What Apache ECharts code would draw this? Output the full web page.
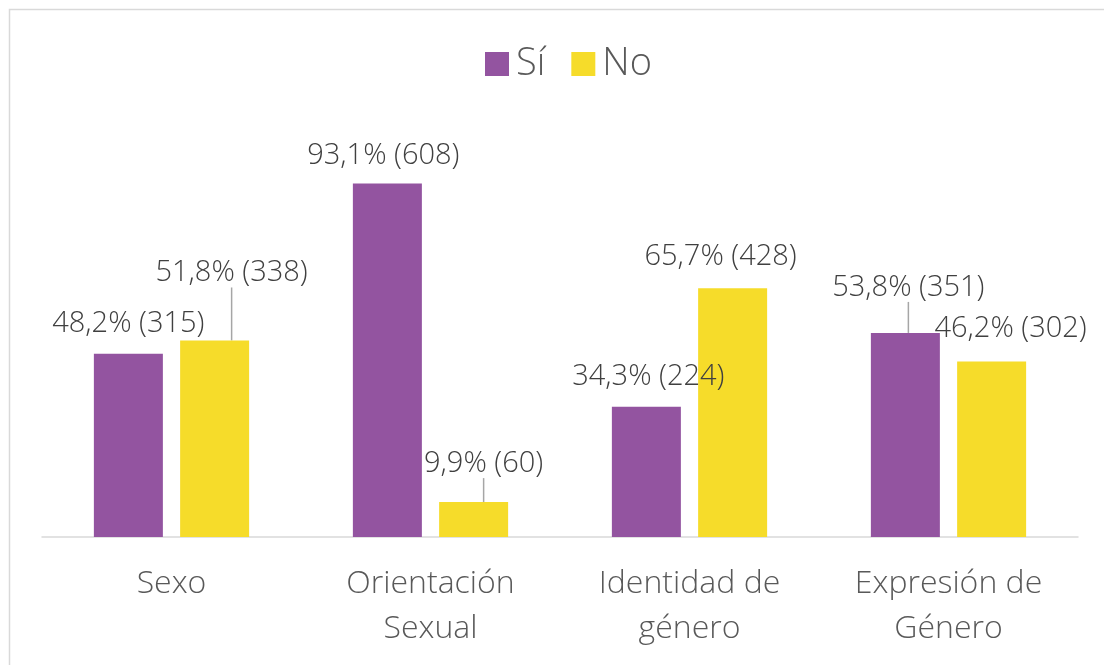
<!DOCTYPE html>
<html>
<head>
<meta charset="utf-8">
<script src="https://cdn.jsdelivr.net/npm/echarts@6/dist/echarts.min.js"></script>
<style>
  html, body { margin: 0; padding: 0; background: #fff; }
  #chart { width: 1104px; height: 665px; }
</style>
</head>
<body>
<div id="chart"></div>
<script>
// categorías y valores
const categories = ['Sexo', 'Orientación\nSexual', 'Identidad de\ngénero', 'Expresión de\nGénero']
const siValues = [315, 608, 224, 351]
const noValues = [338, 60, 428, 302]
const siPct = ['48,2%', '93,1%', '34,3%', '53,8%']
const noPct = ['51,8%', '9,9%', '65,7%', '46,2%']

// desplazamiento de cada etiqueta respecto a su posición por defecto
const siShift = [[0, -11], [-4, -8], [2, -11], [3, -26]]
const noShift = [[17, -48], [10, -19], [-12, -12], [19, -13]]
// qué etiquetas llevan línea guía
const siGuide = [false, false, false, true]
const noGuide = [true, true, false, false]

const chart = echarts.init(document.getElementById('chart'))

function buildData (values, pct, guide) {
  return values.map((v, i) => ({
    value: v,
    label: { formatter: pct[i] + ' (' + v + ')' },
    labelLine: { show: guide[i], lineStyle: { color: '#a6a6a6', width: 1.5 } }
  }))
}

const labelStyle = {
  show: true,
  position: 'top',
  distance: 5,
  color: '#404040',
  fontSize: 29,
  fontWeight: 300,
  fontFamily: 'Open Sans'
}

const option = {
  animation: false,
  backgroundColor: '#fff',
  graphic: [
    {
      type: 'rect',
      shape: { x: 9.5, y: 9.5, width: 1110, height: 700 },
      style: { fill: 'none', stroke: '#d9d9d9', lineWidth: 1.5 },
      silent: true
    }
  ],
  legend: {
    top: 40,
    left: 480,
    itemWidth: 24,
    itemHeight: 24,
    itemGap: 26,
    icon: 'rect',
    textStyle: { color: '#595959', fontSize: 38, fontWeight: 300, fontFamily: 'Open Sans', padding: [0, 0, 0, 2] },
    data: ['Sí', 'No']
  },
  grid: { left: 42, right: 26, top: 130, bottom: 128 },
  xAxis: {
    type: 'category',
    data: categories,
    axisTick: { show: false },
    axisLine: { lineStyle: { color: '#d9d9d9', width: 1.5 } },
    axisLabel: {
      color: '#595959',
      fontSize: 32,
      fontWeight: 300,
      fontFamily: 'Open Sans',
      lineHeight: 45,
      margin: 24,
      interval: 0
    }
  },
  yAxis: {
    type: 'value',
    min: 0,
    max: 700,
    show: false,
    splitLine: { show: false }
  },
  series: [
    {
      name: 'Sí',
      type: 'bar',
      barWidth: 69,
      barGap: '25%',
      itemStyle: { color: '#9354A0' },
      label: labelStyle,
      labelLayout: (p) => ({ dx: siShift[p.dataIndex][0], dy: siShift[p.dataIndex][1] }),
      data: buildData(siValues, siPct, siGuide)
    },
    {
      name: 'No',
      type: 'bar',
      barWidth: 69,
      barGap: '25%',
      itemStyle: { color: '#F6DC2A' },
      label: labelStyle,
      labelLayout: (p) => ({ dx: noShift[p.dataIndex][0], dy: noShift[p.dataIndex][1] }),
      data: buildData(noValues, noPct, noGuide)
    }
  ]
}

chart.setOption(option)
</script>
</body>
</html>
